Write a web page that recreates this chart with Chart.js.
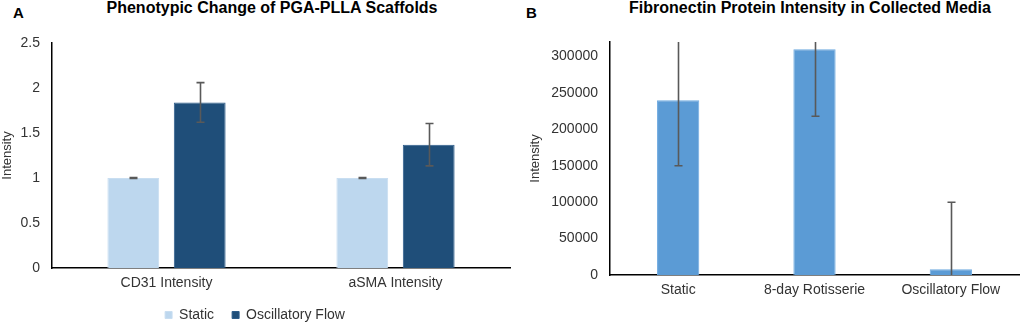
<!DOCTYPE html>
<html>
<head>
<meta charset="utf-8">
<script src="https://cdn.jsdelivr.net/npm/chart.js@4.4.0/dist/chart.umd.min.js"></script>
<style>
  body { margin: 0; background: #fff; width: 1021px; height: 322px; position: relative; overflow: hidden; }
  .box { position: absolute; font-family: 'Liberation Sans', Arial, sans-serif; color: #000; white-space: nowrap; }
  .title { font-weight: bold; font-size: 16px; line-height: 16px; top: 0; transform: translateX(-50%); }
  .letter { font-weight: bold; font-size: 15px; line-height: 15px; top: 5px; }
  canvas { position: absolute; top: 0; }
</style>
</head>
<body>
<div class="box letter" style="left:13px">A</div>
<div class="box title" style="left:272px">Phenotypic Change of PGA-PLLA Scaffolds</div>
<div class="box letter" style="left:526px">B</div>
<div class="box title" style="left:810px">Fibronectin Protein Intensity in Collected Media</div>
<canvas id="chartA" width="520" height="322" style="left:0px"></canvas>
<canvas id="chartB" width="509" height="322" style="left:512px"></canvas>
<script>
// 패널 A 데이터
const markers = ['CD31 Intensity', 'aSMA Intensity'];
const staticVals = [1.0, 1.0];
const staticErr = [0.005, 0.005];
const flowVals = [1.84, 1.37];
const flowErr = [0.22, 0.235];
const ticksA = [0, 0.5, 1, 1.5, 2, 2.5];

// 패널 B 데이터
const conditions = ['Static', '8-day Rotisserie', 'Oscillatory Flow'];
const fibronectin = [240000, 310000, 8000];
const fibronectinErr = [90000, 92000, 92000];
const ticksB = [0, 50000, 100000, 150000, 200000, 250000, 300000];

const font = "'Liberation Sans', Arial, sans-serif";
const textColor = '#333333';

// 오차막대 플러그인
const errorBars = {
    id: 'errorBars',
    afterDatasetsDraw(chart) {
        const ctx = chart.ctx;
        const area = chart.chartArea;
        const y = chart.scales.y;
        ctx.save();
        ctx.beginPath();
        ctx.rect(area.left, area.top, area.right - area.left, area.bottom - area.top);
        ctx.clip();
        ctx.strokeStyle = '#595959';
        ctx.lineWidth = 1.6;
        chart.data.datasets.forEach((ds, i) => {
            if (!ds.errors) return;
            chart.getDatasetMeta(i).data.forEach((bar, j) => {
                const v = ds.data[j], e = ds.errors[j];
                const top = y.getPixelForValue(v + e);
                const bot = y.getPixelForValue(v - e);
                const x = Math.round(bar.x) + 0.5;
                ctx.beginPath();
                ctx.moveTo(x, top); ctx.lineTo(x, bot);
                ctx.moveTo(x - 4, top); ctx.lineTo(x + 4, top);
                ctx.moveTo(x - 4, bot); ctx.lineTo(x + 4, bot);
                ctx.stroke();
            });
        });
        ctx.restore();
    }
};

function axisY(width, max, ticks, pad) {
    return {
        min: 0, max: max,
        afterFit: s => { s.width = width; },
        afterBuildTicks: s => { s.ticks = ticks.map(v => ({ value: v })); },
        grid: { display: false, drawTicks: false },
        border: { display: true, color: '#000', width: 1.5 },
        ticks: { padding: 12, color: textColor, font: { family: font, size: 14 }, callback: v => String(v) },
        title: { display: true, text: 'Intensity', color: textColor, font: { family: font, size: 13 }, padding: { top: pad, bottom: 0 } }
    };
}

function axisX(h) {
    return {
        afterFit: s => { s.height = h; },
        grid: { display: false, drawTicks: false },
        border: { display: true, color: '#000', width: 1.5 },
        ticks: { padding: 7, color: textColor, font: { family: font, size: 14 } }
    };
}

new Chart(document.getElementById('chartA'), {
    type: 'bar',
    data: {
        labels: markers,
        datasets: [
            { label: 'Static', data: staticVals, errors: staticErr, backgroundColor: '#BDD7EE', borderColor: '#C9DEF1', borderWidth: 1,
              categoryPercentage: 0.58, barPercentage: 0.78 },
            { label: 'Oscillatory Flow', data: flowVals, errors: flowErr, backgroundColor: '#1F4E79', borderColor: '#2C5C8A', borderWidth: 1,
              categoryPercentage: 0.58, barPercentage: 0.78 }
        ]
    },
    options: {
        responsive: false,
        animation: false,
        devicePixelRatio: 1,
        layout: { padding: { top: 43, right: 10, left: 0, bottom: -10 } },
        scales: { x: axisX(22), y: axisY(52, 2.5, ticksA, 0) },
        plugins: {
            tooltip: { enabled: false },
            legend: {
                position: 'bottom',
                labels: { boxWidth: 7, boxHeight: 7, padding: 18, color: textColor, font: { family: font, size: 14 } }
            }
        }
    },
    plugins: [errorBars]
});

new Chart(document.getElementById('chartB'), {
    type: 'bar',
    data: {
        labels: conditions,
        datasets: [
            { label: 'Fibronectin', data: fibronectin, errors: fibronectinErr, backgroundColor: '#5B9BD5', borderColor: '#6FAAE0', borderWidth: 1,
              categoryPercentage: 1, barPercentage: 0.31 }
        ]
    },
    options: {
        responsive: false,
        animation: false,
        devicePixelRatio: 1,
        layout: { padding: { top: 42, right: 2, left: 0, bottom: 17 } },
        scales: { x: axisX(30), y: axisY(98, 320000, ticksB, 16) },
        plugins: {
            tooltip: { enabled: false },
            legend: { display: false }
        }
    },
    plugins: [errorBars]
});
</script>
</body>
</html>
